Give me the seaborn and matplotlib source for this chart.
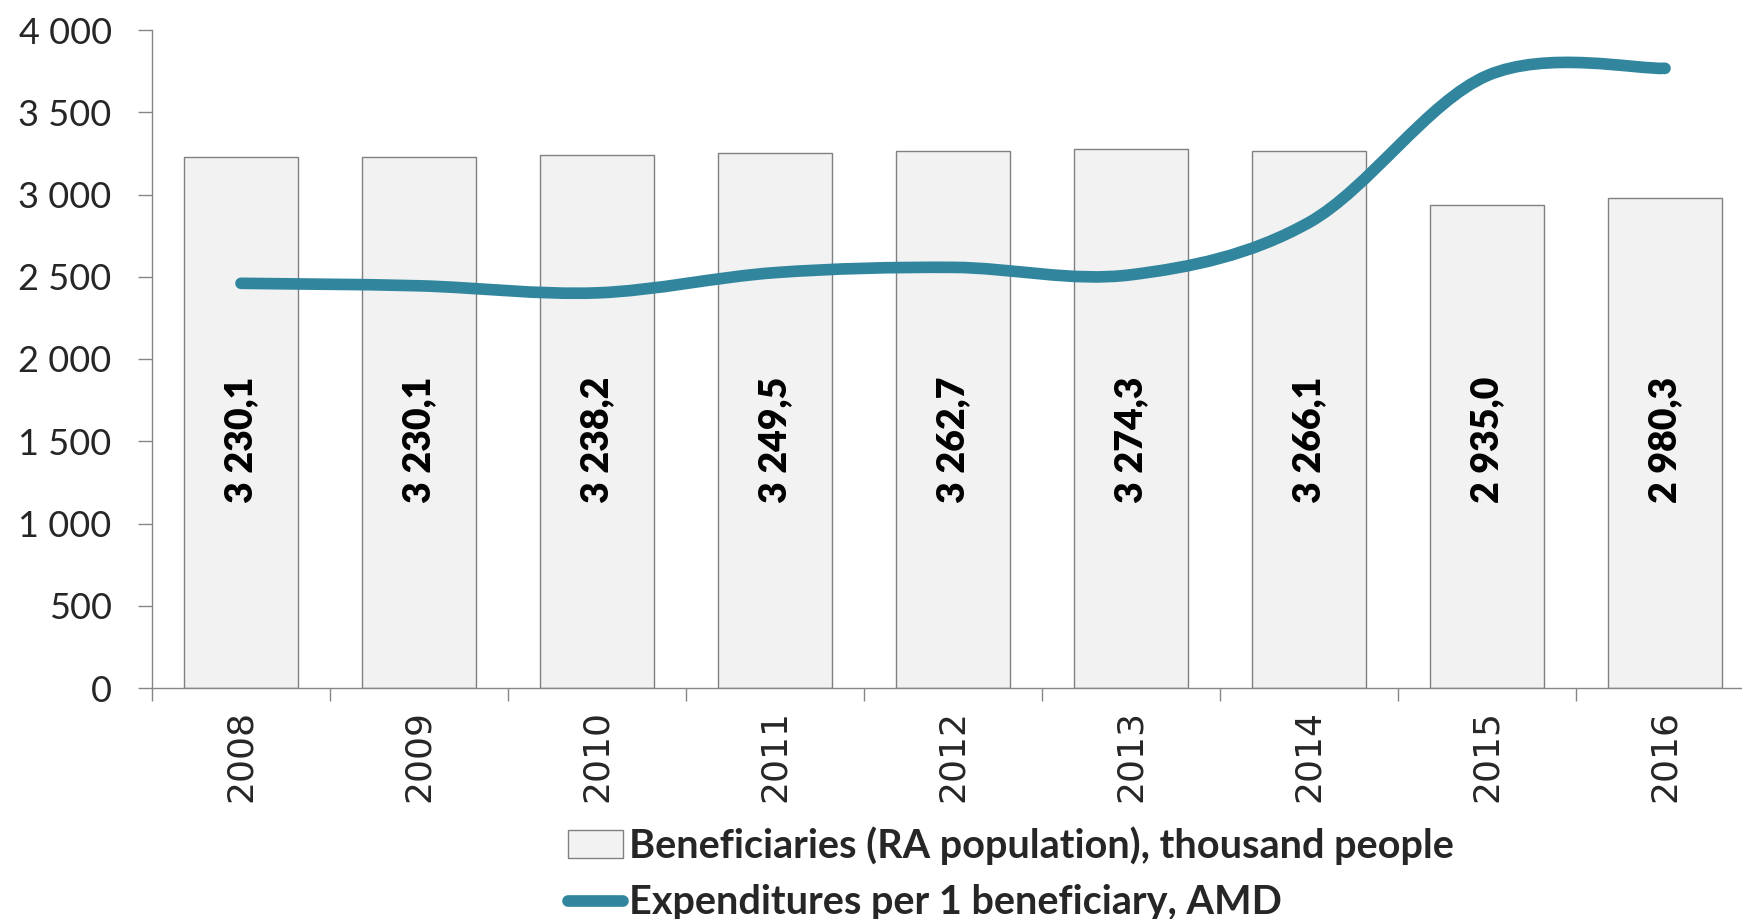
import matplotlib
matplotlib.use("Agg")
import matplotlib.pyplot as plt
import numpy as np
import seaborn as sns
from matplotlib.lines import Line2D
from matplotlib.patches import Patch, PathPatch
from matplotlib.path import Path

# data
years = ["2008", "2009", "2010", "2011", "2012", "2013", "2014", "2015", "2016"]
beneficiaries = [3230.1, 3230.1, 3238.2, 3249.5, 3262.7, 3274.3, 3266.1, 2935.0, 2980.3]
bar_labels = ["3 230,1", "3 230,1", "3 238,2", "3 249,5", "3 262,7", "3 274,3", "3 266,1", "2 935,0", "2 980,3"]
expenditure = [2460, 2445, 2402, 2525, 2557, 2512, 2830, 3722, 3767]

BAR_FILL = "#F2F2F2"
BAR_EDGE = "#808080"
AXIS_GRAY = "#868686"
LINE_COLOR = "#31869E"


def smooth_path(xs, ys):
    # Excel-style smoothed line: cubic Bezier segments with Catmull-Rom control points
    pts = np.column_stack([xs, ys]).astype(float)
    n = len(pts)
    verts = [pts[0]]
    codes = [Path.MOVETO]
    for i in range(n - 1):
        p_prev = pts[i - 1] if i > 0 else pts[i]
        p_next2 = pts[i + 2] if i + 2 < n else pts[i + 1]
        c1 = pts[i] + (pts[i + 1] - p_prev) / 6
        c2 = pts[i + 1] - (p_next2 - pts[i]) / 6
        verts += [c1, c2, pts[i + 1]]
        codes += [Path.CURVE4] * 3
    return Path(verts, codes)


sns.set_theme(style="white")
plt.rcParams["font.family"] = ["Lato", "DejaVu Sans"]

fig = plt.figure(figsize=(17.42, 9.19), dpi=100)
ax = fig.add_axes([152 / 1742, 1 - 688 / 919, 1602 / 1742, 658 / 919])

sns.barplot(x=years, y=beneficiaries, color=BAR_FILL, saturation=1, edgecolor=BAR_EDGE,
            linewidth=1.0, width=0.64, ax=ax, zorder=2)

for i, lab in enumerate(bar_labels):
    ax.text(i, 1510, lab, rotation=90, ha="center", va="center", fontsize=27,
            fontweight="heavy", color="black", zorder=3)

line_path = smooth_path(np.arange(len(years)), expenditure)
ax.add_patch(PathPatch(line_path, fill=False, edgecolor=LINE_COLOR, linewidth=8.4,
                       capstyle="round", joinstyle="round", zorder=4))

ax.set_xlim(-0.5, len(years) - 0.5)
ax.set_ylim(0, 4000)
ax.set_yticks(np.arange(0, 4001, 500))
ax.set_yticklabels([f"{v:,.0f}".replace(",", " ") for v in np.arange(0, 4001, 500)])
ax.set_xticks(np.arange(len(years)))
ax.set_xticklabels(years, rotation=90, fontfamily="DejaVu Sans", fontsize=26)
ax.set_xticks(np.arange(len(years) + 1) - 0.5, minor=True)
ax.set_xlabel(""); ax.set_ylabel("")

for side in ["top", "right"]:
    ax.spines[side].set_visible(False)
for side in ["left", "bottom"]:
    ax.spines[side].set_color(AXIS_GRAY); ax.spines[side].set_linewidth(1.0)

ax.tick_params(axis="y", which="major", direction="out", length=10, width=1.0, color=AXIS_GRAY,
               labelsize=26, pad=19, left=True)
ax.tick_params(axis="x", which="major", length=0, pad=16)
ax.tick_params(axis="x", which="minor", direction="out", length=9.4, width=1.0, color=AXIS_GRAY, bottom=True)
ax.grid(False)

handles = [Patch(facecolor=BAR_FILL, edgecolor=BAR_EDGE, linewidth=1.0),
           Line2D([], [], color=LINE_COLOR, linewidth=8.4, solid_capstyle="round")]
labels = ["Beneficiaries (RA population), thousand people", "Expenditures per 1 beneficiary, AMD"]
fig.legend(handles, labels, loc="upper left", bbox_to_anchor=(568 / 1742, 1 - 826 / 919),
           frameon=False, borderpad=0, borderaxespad=0, handlelength=1.4, handleheight=0.7,
           handletextpad=0.15, labelspacing=0.5, prop={"family": "Lato", "weight": "bold", "size": 28.5})

fig.savefig("out.png", dpi=100)
